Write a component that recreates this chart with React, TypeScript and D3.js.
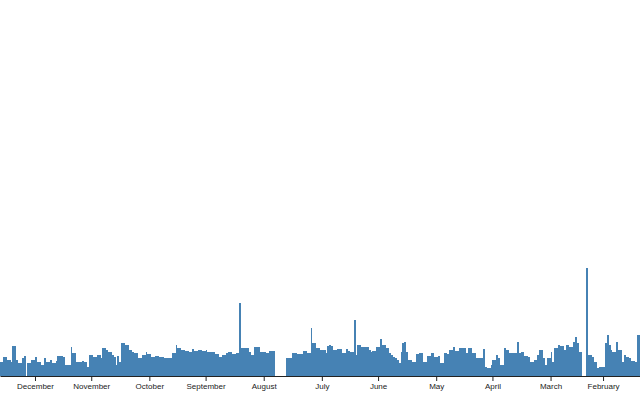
import React, { useEffect, useRef } from 'react';
import * as d3 from 'd3';

// newest day shown at the left edge, the axis runs back in time to the right
const lastDay = new Date(2013, 11, 19);
const domainStart = new Date(2013, 11, 19, 16); // left edge of the plot
const domainEnd = new Date(2013, 0, 12, 7); // right edge of the plot

// daily values, read left to right: Dec 19 back to Jan 12 (null = no data that day)
const dailyValues: (number | null)[] = [
  14, 14, 19, 19, 16, 16, 14, 30, 30, 16, 13, 13, 18, 20, null, 13, 13, 16, 16, 19,
  14, 14, 11, 11, 18, 14, 14, 16, 13, 13, 15, 20, 20, 20, 19, 11, 11, 11, 29, 23,
  23, 14, 14, 14, 15, 14, 14, 9, 21, 21, 19, 19, 21, 21, 18, 28, 28, 26, 24, 24,
  21, 19, 11, 20, 14, 33, 33, 31, 31, 26, 26, 24, 23, 23, 18, 18, 21, 21, 24, 22,
  22, 19, 19, 20, 20, 19, 19, 19, 18, 18, 18, 18, 23, 23, 31, 28, 28, 26, 26, 25,
  25, 24, 24, 27, 25, 25, 26, 26, 25, 25, 26, 24, 24, 24, 24, 22, 22, 19, 19, 21,
  21, 23, 24, 24, 22, 22, 23, 23, 73, 28, 28, 28, 28, 24, 21, 21, 29, 29, 29, 24,
  24, 24, 23, 23, 25, 25, 25, null, null, null, null, null, null, 18, 18, 18, 23, 23,
  23, 22, 22, 22, 25, 25, 23, 23, 48, 33, 33, 28, 28, 26, 26, 26, 23, 30, 31, 30,
  26, 26, 27, 27, 27, 23, 23, 27, 25, 24, 24, 56, 21, 31, 31, 29, 29, 29, 29, 26,
  24, 25, 25, 29, 29, 37, 31, 31, 28, 28, 23, 21, 19, 18, 16, 13, 24, 33, 34, 24,
  16, 16, 14, 14, 22, 22, 23, 23, 14, 14, 20, 20, 23, 23, 19, 19, 20, 13, 13, 23,
  23, 22, 26, 26, 29, 25, 25, 28, 28, 28, 28, 23, 28, 28, 23, 23, 18, 18, 18, 18,
  27, 9, 8, 8, 11, 16, 16, 21, 18, 11, 11, 28, 26, 26, 23, 23, 23, 23, 34, 23,
  24, 24, 20, 20, 19, 14, 14, 16, 16, 21, 26, 26, 18, 11, 18, 18, 24, 14, 28, 28,
  31, 30, 30, 26, 31, 31, 29, 29, 34, 39, 33, 24, 24, null, null, 108, 21, 21, 19, 14,
  14, 8, 9, 9, 9, 33, 41, 31, 26, 24, 24, 34, 26, 26, 14, 21, 19, 19, 18, 15,
  15, 14, 41, 41,
];

const yMax = 376;

const App: React.FC = () => {
  const chartRef = useRef<SVGSVGElement | null>(null);

  useEffect(() => {
    const width = 640;
    const height = 400;
    const plotBottom = 376;

    const data = dailyValues
      .map((v, i) => ({ date: d3.timeDay.offset(lastDay, -i), value: v }))
      .filter(d => d.value !== null) as { date: Date; value: number }[];

    const svg = d3.select(chartRef.current)
      .attr('width', width)
      .attr('height', height);
    svg.selectAll('*').remove();

    const x = d3.scaleTime()
      .domain([domainStart, domainEnd])
      .range([0, width]);

    const y = d3.scaleLinear()
      .domain([0, yMax])
      .range([plotBottom, 0]);

    svg.append('g')
      .selectAll('rect')
      .data(data)
      .enter().append('rect')
      .attr('x', d => x(d3.timeDay.offset(d.date, 1)))
      .attr('width', d => x(d.date) - x(d3.timeDay.offset(d.date, 1)))
      .attr('y', d => y(d.value))
      .attr('height', d => plotBottom - y(d.value))
      .attr('fill', 'steelblue')
      .attr('shape-rendering', 'crispEdges');

    const axis = svg.append('g')
      .attr('transform', `translate(0,${plotBottom})`)
      .call(d3.axisBottom(x)
        .ticks(d3.timeMonth)
        .tickFormat(d3.timeFormat('%B') as any)
        .tickSize(5)
        .tickSizeOuter(0)
        .tickPadding(2.5));

    axis.selectAll('text')
      .style('font-family', '"Liberation Sans", Arial, sans-serif')
      .style('font-size', '8px')
      .style('fill', '#222');
    axis.selectAll('line, path').attr('stroke', '#222');
  }, []);

  return (
    <div style={{ position: 'absolute', left: 0, top: 0 }}>
      <svg ref={chartRef} style={{ display: 'block' }}></svg>
    </div>
  );
};

export default App;
